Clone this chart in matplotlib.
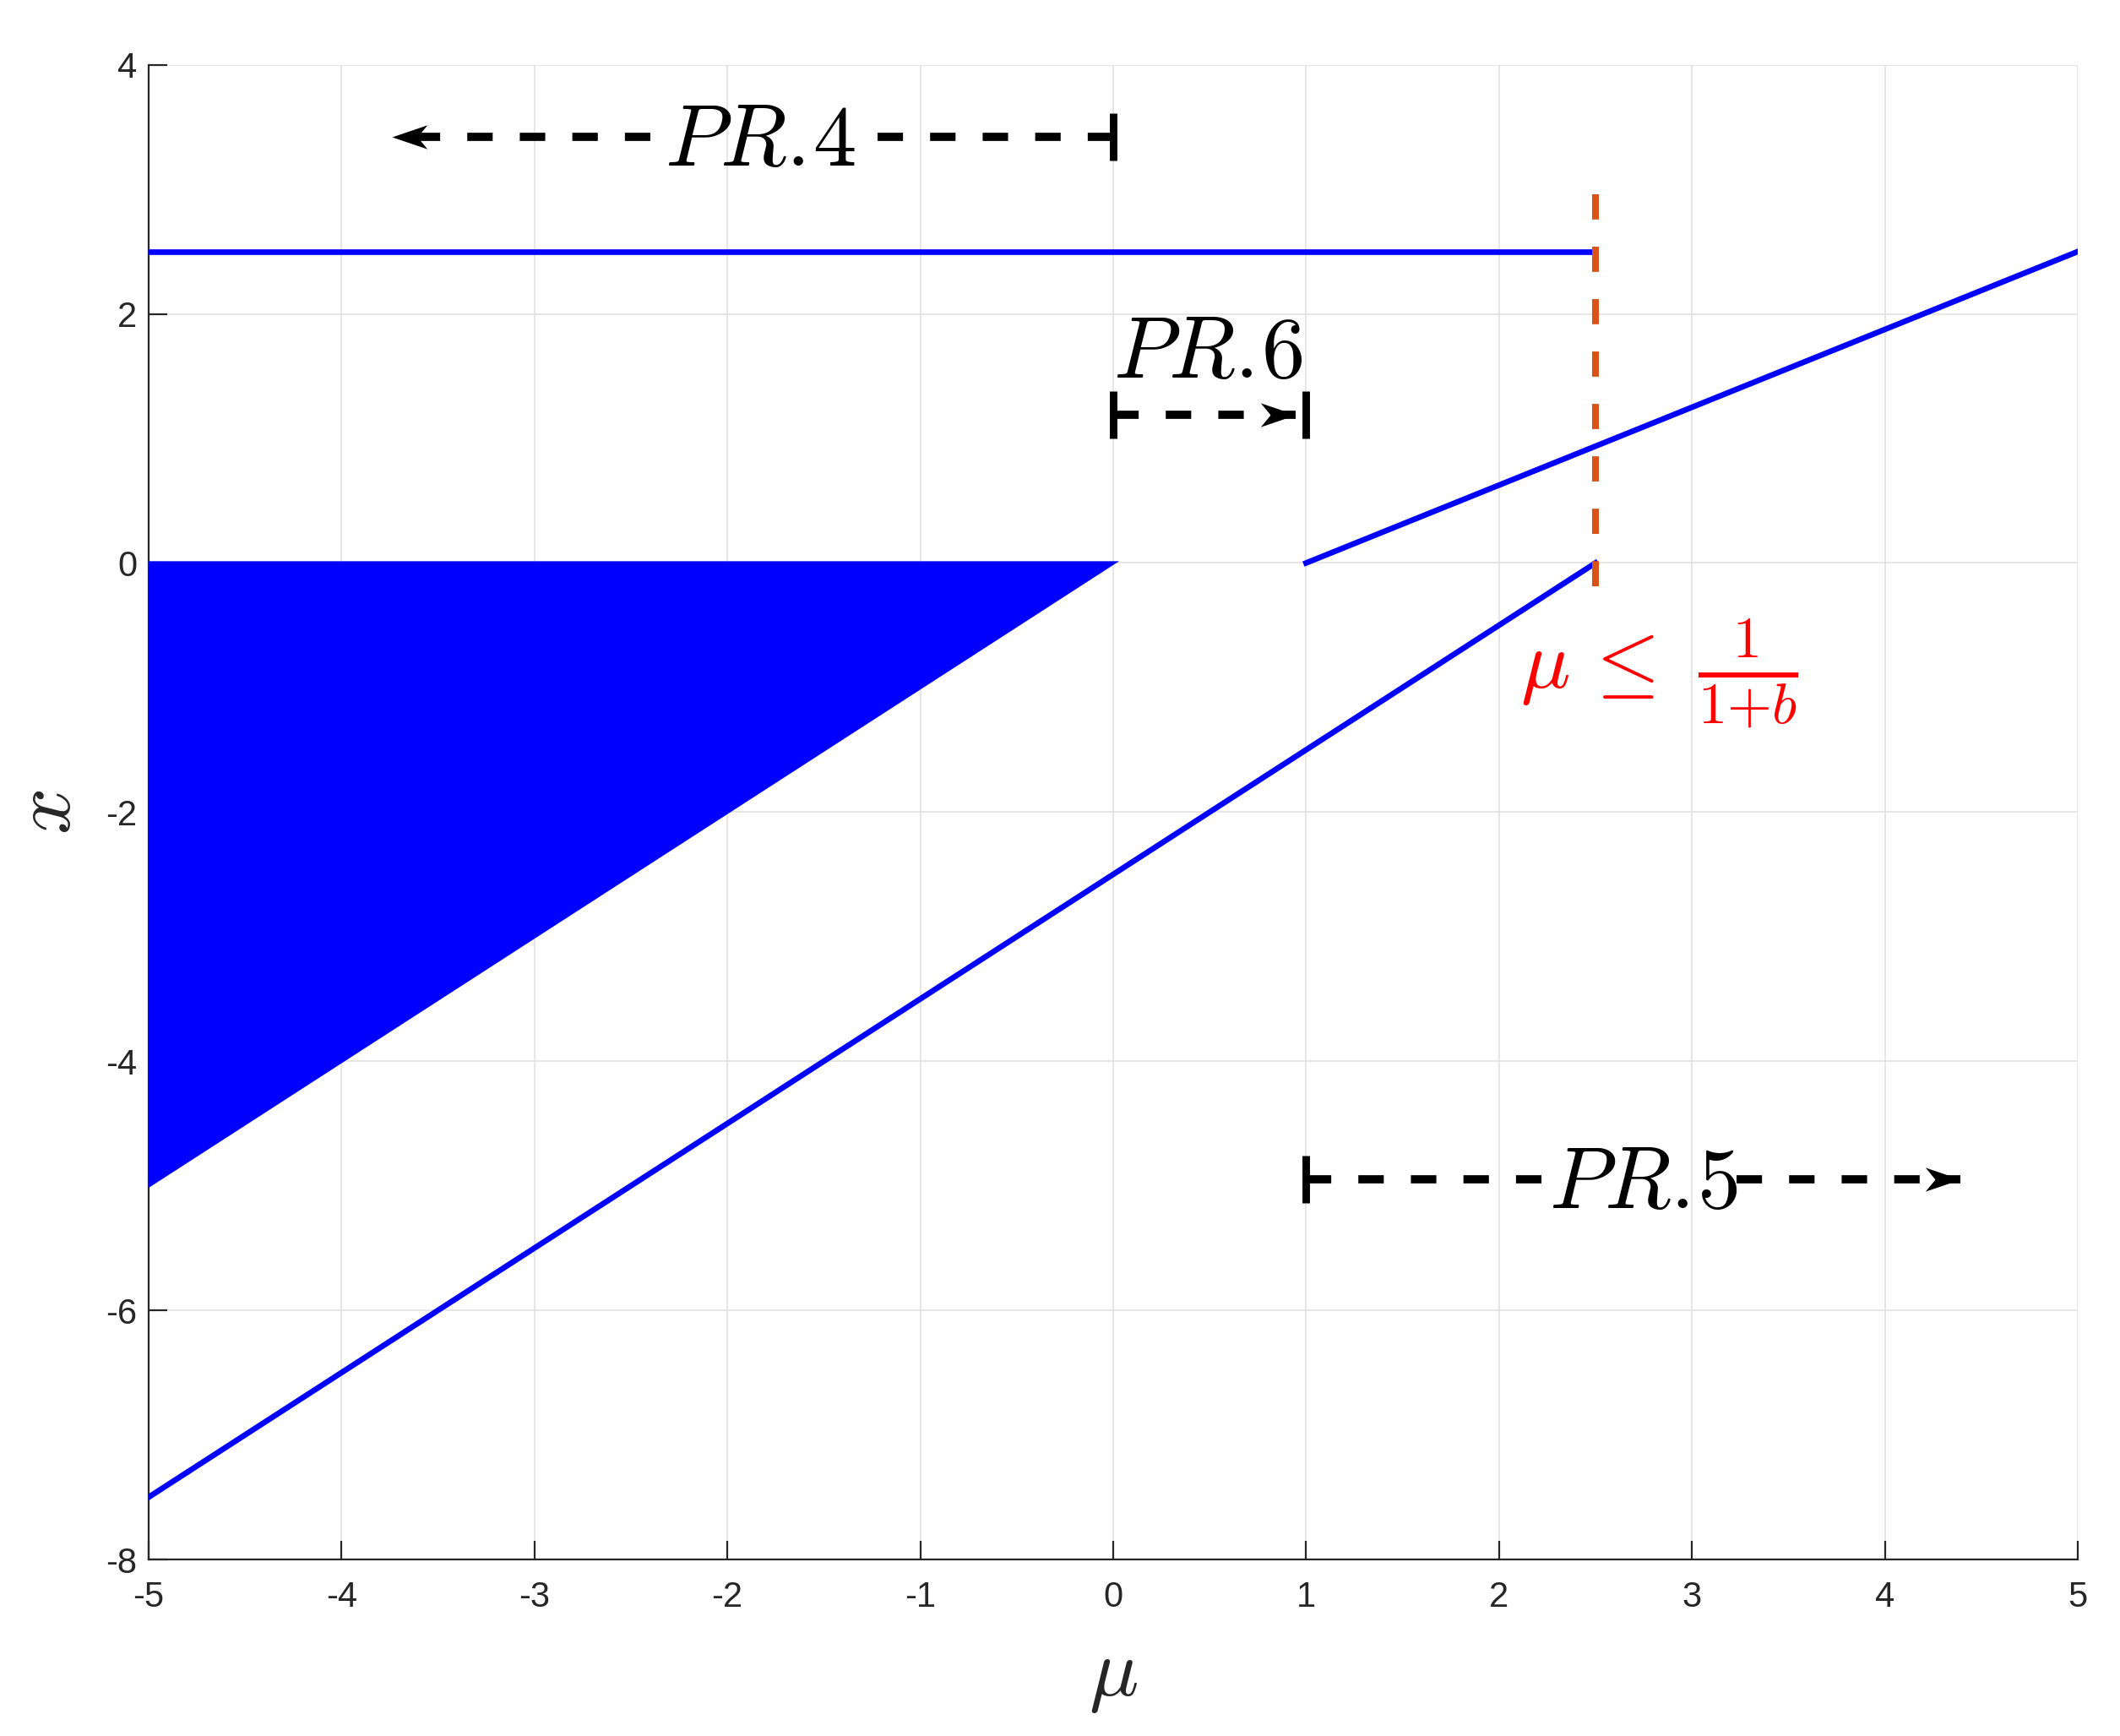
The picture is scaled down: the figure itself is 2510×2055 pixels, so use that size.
import matplotlib
matplotlib.use('Agg')
import matplotlib.pyplot as plt
from matplotlib.path import Path
import numpy as np

# branches of x vs mu
mu_top = [-5, 2.5]
x_top = [2.5, 2.5]
mu_fill = [-5, 0, -5]
x_fill = [0, 0, -5]
mu_low = [-5, 2.5]
x_low = [-7.5, 0]
mu_right = [1, 5]
x_right = [0, 2.5]
mu_bound = 2.5
x_bound = [2.96, -0.36]

# region arrows (PR.4, PR.6, PR.5)
pr_labels = [r'$PR.\!4$', r'$PR.\!6$', r'$PR.\!5$']
pr_start = [0, 0, 1]
pr_tip = [-3.74, 0.945, 4.39]
pr_y = [3.42, 1.19, -4.95]
pr_text_mu = [-1.83, 0.49, 2.75]
pr_text_x = [3.37, 1.67, -5.0]
pr_text_span = [(-2.40, -1.34), None, (2.27, 3.23)]
pr_end_bar = [None, 1, None]

cond_label = r'$\mu\,\leq\ \frac{1}{1{+}b}$'
cond_mu, cond_x = 2.83, -0.89

xticks = np.arange(-5, 6, 1)
yticks = np.arange(-8, 5, 2)

plt.rcParams['font.family'] = ['Liberation Sans', 'DejaVu Sans']
plt.rcParams['mathtext.fontset'] = 'cm'
plt.rcParams['axes.unicode_minus'] = False

BLUE = '#0000ff'
ORANGE = '#D95319'
INK = '#262626'

# arrow head shapes (tip at the origin)
codes = [Path.MOVETO, Path.LINETO, Path.LINETO, Path.LINETO, Path.CLOSEPOLY]
head_r = Path([(0, 0), (-1, 0.34), (-0.72, 0), (-1, -0.34), (0, 0)], codes)
head_l = Path([(0, 0), (1, 0.34), (0.72, 0), (1, -0.34), (0, 0)], codes)

fig = plt.figure(figsize=(12.55, 10.275), dpi=200, facecolor='white')
ax = fig.add_axes([0.0701, 0.1017, 0.90996, 0.8610])

ax.fill(mu_fill, x_fill, facecolor=BLUE, edgecolor=BLUE, lw=1.5, zorder=3)
ax.plot(mu_top, x_top, color=BLUE, lw=2.4, zorder=3)
ax.plot(mu_low, x_low, color=BLUE, lw=2.4, zorder=3)
ax.plot(mu_right, x_right, color=BLUE, lw=2.4, zorder=3)
ax.plot([mu_bound, mu_bound], x_bound, color=ORANGE, lw=2.9,
        dashes=(3.7, 4.0), zorder=4)

for i, lab in enumerate(pr_labels):
    y = pr_y[i]
    s = pr_start[i]
    t = pr_tip[i]
    span = pr_text_span[i]
    if span is None:
        segs = [(s, t)]
    elif t < s:
        segs = [(s, span[1]), (span[0], t)]
    else:
        segs = [(s, span[0]), (span[1], t)]
    for a, b in segs:
        ax.plot([a, b], [y, y], color='k', lw=3.5, dashes=(3.1, 3.3), zorder=5)
    ax.plot([s], [y], marker='|', ms=20, mew=3.2, color='k', zorder=5)
    if pr_end_bar[i] is not None:
        ax.plot([pr_end_bar[i]], [y], marker='|', ms=20, mew=3.2, color='k', zorder=5)
    head = head_r if t > s else head_l
    ax.plot([t], [y], marker=head, ms=30, color='k', mew=0, zorder=6)
    ax.text(pr_text_mu[i], pr_text_x[i], lab, fontsize=37, ha='center',
            va='center', zorder=6)

ax.text(cond_mu, cond_x, cond_label, fontsize=35, color='red',
        ha='center', va='center', zorder=6)

ax.set_xlim(-5, 5)
ax.set_ylim(-8, 4)
ax.set_xticks(xticks)
ax.set_yticks(yticks)
ax.grid(True, color='#e2e2e2', lw=0.6)
ax.set_axisbelow(True)
for side in ['top', 'right']:
    ax.spines[side].set_visible(False)
for side in ['left', 'bottom']:
    ax.spines[side].set_color(INK)
    ax.spines[side].set_linewidth(0.8)
ax.tick_params(direction='in', length=8, width=0.8, colors=INK, labelsize=15)
ax.tick_params(axis='x', pad=9)
ax.tick_params(axis='y', pad=5)

ax.set_xlabel(r'$\mu$', fontsize=35, color=INK)
ax.xaxis.set_label_coords(0.5, -0.053)
ax.set_ylabel(r'$x$', fontsize=35, color=INK)
ax.yaxis.set_label_coords(-0.032, 0.5)

fig.savefig('out.png', dpi=200)
plt.close(fig)
